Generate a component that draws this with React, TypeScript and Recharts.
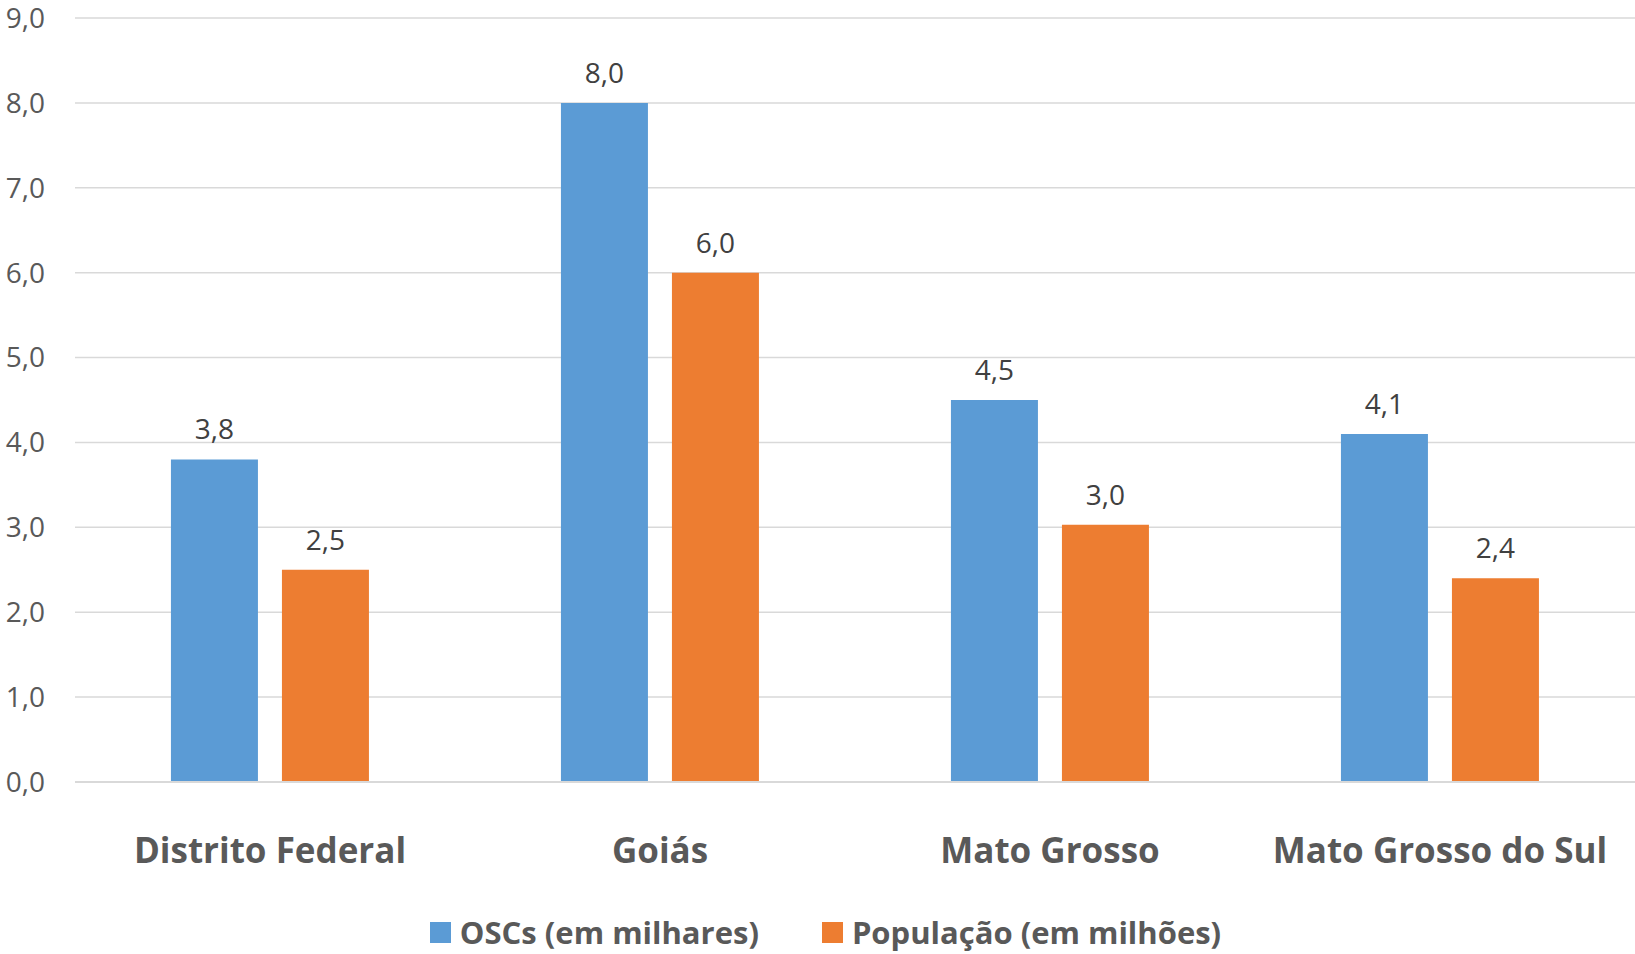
import { BarChart, Bar, XAxis, YAxis, CartesianGrid, LabelList } from "recharts";

const categories = ["Distrito Federal", "Goiás", "Mato Grosso", "Mato Grosso do Sul"];
const oscs = [3.8, 8.0, 4.5, 4.1];
const populacao = [2.5, 6.0, 3.03, 2.4];
const yTicks = [0, 1, 2, 3, 4, 5, 6, 7, 8, 9];

const BLUE = "#5b9bd5";
const ORANGE = "#ed7d31";
const FONT = "'Open Sans', sans-serif";

const data = categories.map((name, i) => ({ name, oscs: oscs[i], pop: populacao[i] }));

const fmt = (v: any) => Number(v).toFixed(1).replace(".", ",");

export default function App() {
  return (
    <div style={{ position: "relative", width: 1635, height: 954, fontFamily: FONT, background: "#fff" }}>
      <style>{`body{margin:0}`}</style>
      <BarChart
        width={1635}
        height={954}
        data={data}
        margin={{ top: 18, right: 0, bottom: 72, left: 0 }}
        barCategoryGap="24.6%"
        barGap={24}
        style={{ fontFamily: FONT, overflow: "visible" }}
      >
        <CartesianGrid vertical={false} stroke="#d9d9d9" strokeWidth={1.5} />
        <XAxis
          dataKey="name"
          height={100}
          tickLine={false}
          tickSize={0}
          tickMargin={56}
          axisLine={{ stroke: "#d9d9d9", strokeWidth: 2 }}
          tick={{ fill: "#595959", fontSize: 35, fontWeight: 700 }}
          interval={0}
        />
        <YAxis
          width={75}
          domain={[0, 9]}
          ticks={yTicks}
          tickFormatter={fmt}
          axisLine={false}
          tickLine={false}
          tickSize={0}
          tickMargin={30}
          tick={{ fill: "#595959", fontSize: 28 }}
        />
        <Bar dataKey="oscs" fill={BLUE} isAnimationActive={false}>
          <LabelList dataKey="oscs" position="top" offset={20} formatter={fmt} fill="#404040" fontSize={28} />
        </Bar>
        <Bar dataKey="pop" fill={ORANGE} isAnimationActive={false}>
          <LabelList dataKey="pop" position="top" offset={20} formatter={fmt} fill="#404040" fontSize={28} />
        </Bar>
      </BarChart>
      <div
        style={{
          position: "absolute",
          top: 912,
          left: 0,
          width: 1635,
          display: "flex",
          justifyContent: "center",
          paddingLeft: 16,
          boxSizing: "border-box",
          gap: 63,
          color: "#595959",
          fontSize: 31,
          fontWeight: 700,
          lineHeight: "40px",
        }}
      >
        <div style={{ display: "flex", alignItems: "center", gap: 9 }}>
          <span style={{ width: 21, height: 21, background: BLUE, display: "inline-block" }} />
          <span>OSCs (em milhares)</span>
        </div>
        <div style={{ display: "flex", alignItems: "center", gap: 9 }}>
          <span style={{ width: 21, height: 21, background: ORANGE, display: "inline-block" }} />
          <span>População (em milhões)</span>
        </div>
      </div>
    </div>
  );
}
